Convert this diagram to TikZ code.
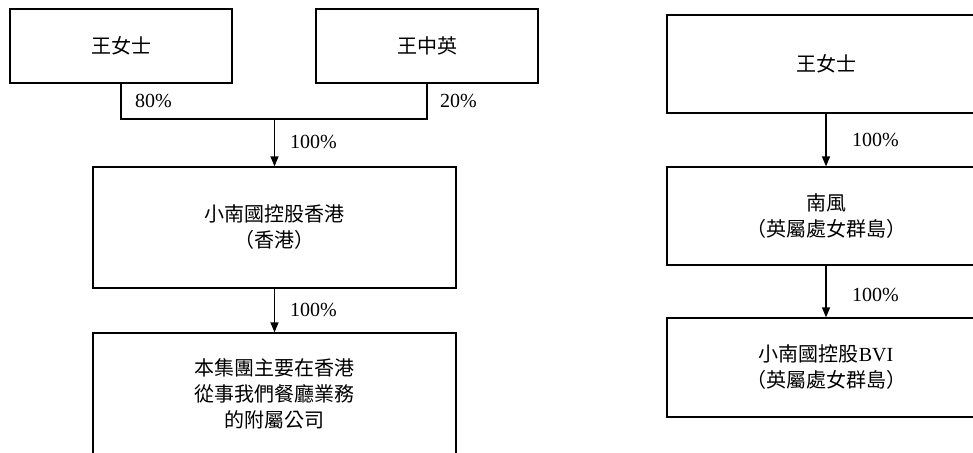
\documentclass[tikz,border=0pt]{standalone}
\usepackage{fontspec}
\setmainfont{Liberation Serif}
\newfontfamily\cjk{Noto Sans CJK TC}
\usetikzlibrary{arrows.meta}
\begin{document}
\begin{tikzpicture}[x=1pt,y=-1pt,
  box/.style={draw, line width=1.3pt, inner sep=0pt, align=center, font={\cjk\fontsize{20}{26}\selectfont}},
  lbl/.style={anchor=west, inner sep=0pt, font={\fontsize{20}{24}\selectfont}},
  arr/.style={line width=1.3pt, -{Triangle[length=10pt,width=8pt]}},
  ln/.style={line width=1.3pt}]
\useasboundingbox (0,0) rectangle (973,452);
\clip (0,0) rectangle (973,452);
% left tree
\node[box, minimum width=222pt, minimum height=74pt] (wa) at (121,46) {王女士};
\node[box, minimum width=222pt, minimum height=74pt] (wz) at (427,46) {王中英};
\coordinate (ja) at (121,119);
\coordinate (jz) at (427,119);
\coordinate (jm) at (274.5,119);
\node[box, minimum width=363pt, minimum height=121pt] (hk) at (274.5,227.5) {小南國控股香港\\（香港）};
\node[box, minimum width=363pt, minimum height=121pt] (grp) at (274.5,393.5) {本集團主要在香港\\從事我們餐廳業務\\的附屬公司};
\draw[ln] (wa.south) -- (ja) -- (jz) -- (wz.south);
\draw[arr] (jm) -- (hk.north);
\draw[arr] (hk.south) -- (grp.north);
\node[lbl] (p80) at (135,101) {80\%};
\node[lbl] (p20) at (440,101) {20\%};
\node[lbl] (p100a) at (290,142) {100\%};
\node[lbl] (p100b) at (290,310) {100\%};
% right tree
\node[box, minimum width=318pt, minimum height=98pt] (wr) at (826,64) {王女士};
\node[box, minimum width=318pt, minimum height=98pt] (nf) at (826,216) {南風\\（英屬處女群島）};
\node[box, minimum width=318pt, minimum height=99pt] (bvi) at (826,367.5) {小南國控股{\rmfamily BVI}\\（英屬處女群島）};
\draw[arr] (wr.south) -- (nf.north);
\draw[arr] (nf.south) -- (bvi.north);
\node[lbl] (p100c) at (852,140) {100\%};
\node[lbl] (p100d) at (852,295) {100\%};
\end{tikzpicture}
\end{document}
